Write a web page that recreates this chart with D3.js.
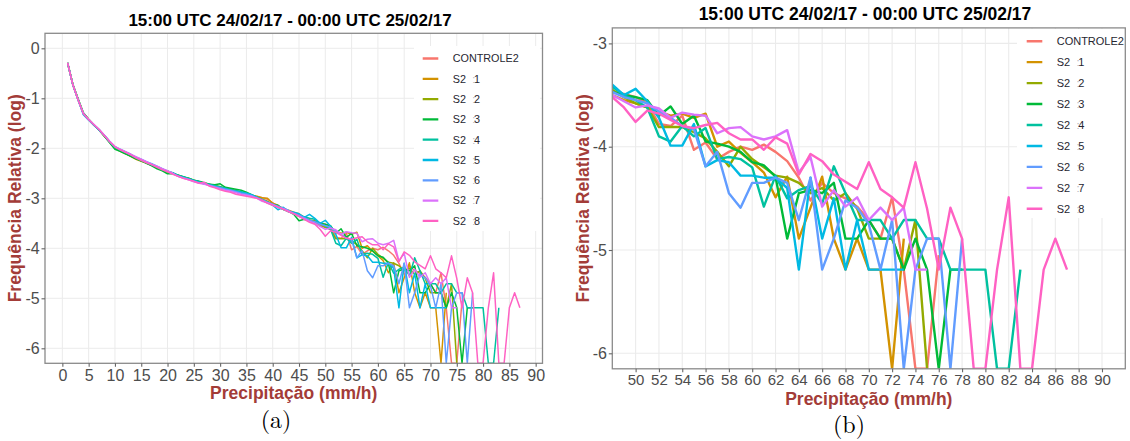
<!DOCTYPE html>
<html><head><meta charset="utf-8">
<script src="https://cdn.jsdelivr.net/npm/d3@7"></script>
<style>body{margin:0;background:#fff}svg{display:block}</style>
</head><body>
<svg id="c" width="1130" height="441"></svg>
<script>
// ---------- data ----------
const NI = -Infinity; // zero-count bin (log10(0)), drawn at the panel floor
const seriesNames = ["CONTROLE2","S2_1","S2_2","S2_3","S2_4","S2_5","S2_6","S2_7","S2_8"];
const seriesColors = ["#F8766D","#D39200","#93AA00","#00BA38","#00C19F","#00B9E3","#619CFF","#DB72FB","#FF61C3"];
const titleText = "15:00 UTC 24/02/17 - 00:00 UTC 25/02/17";
const xTitle = "Precipitação (mm/h)";
const yTitle = "Frequência Relativa (log)";
const xTicksA = [0,5,10,15,20,25,30,35,40,45,50,55,60,65,70,75,80,85,90];
const yTicksA = [-6,-5,-4,-3,-2,-1,0];
const xTicksB = [50,52,54,56,58,60,62,64,66,68,70,72,74,76,78,80,82,84,86,88,90];
const yTicksB = [-6,-5,-4,-3];

const controle2 = [
-0.29,-0.74,-1.04,-1.31,-1.43,-1.54,-1.64,-1.76,-1.88,-1.98,
-2.04,-2.09,-2.14,-2.20,-2.25,-2.28,-2.33,-2.37,-2.42,-2.46,
-2.50,-2.55,-2.58,-2.62,-2.64,-2.68,-2.71,-2.73,-2.76,-2.78,
-2.80,-2.83,-2.85,-2.88,-2.91,-2.94,-2.97,-2.99,-3.02,-3.09,
-3.16,-3.20,-3.25,-3.30,-3.33,-3.39,-3.43,
-3.47,-3.49,-3.52,-3.58,-3.78,-3.80,-3.70,-4.03,-3.96,-4.12,
-4.05,-4.00,-4.03,-3.98,-4.05,-4.14,-4.30,-4.52,-4.35,-4.45,
-4.50,-4.58,-4.71,-4.89,-4.49,-5.19,NI,NI,-5.05];
const s2_1 = [
-0.30,-0.73,-1.03,-1.30,-1.42,-1.53,-1.64,-1.75,-1.87,-1.98,
-2.05,-2.10,-2.16,-2.22,-2.26,-2.29,-2.34,-2.38,-2.42,-2.47,
-2.51,-2.54,-2.58,-2.61,-2.65,-2.67,-2.70,-2.73,-2.76,-2.79,
-2.80,-2.82,-2.85,-2.89,-2.90,-2.94,-2.96,-2.99,-3.00,-3.10,
-3.14,-3.21,-3.24,-3.28,-3.31,-3.38,-3.44,
-3.50,-3.55,-3.58,-3.62,-3.66,-3.70,-3.68,-3.72,-3.68,-4.00,
-3.95,-4.06,-4.15,-4.25,-4.49,-4.29,-4.89,-4.59,-4.29,-4.89,
-5.19,-4.89,-5.19,-5.19,NI,-4.89];
const s2_2 = [
-0.29,-0.72,-1.02,-1.30,-1.42,-1.54,-1.63,-1.76,-1.88,-2.00,
-2.06,-2.11,-2.15,-2.20,-2.25,-2.30,-2.34,-2.39,-2.43,-2.48,
-2.50,-2.54,-2.58,-2.60,-2.64,-2.67,-2.70,-2.72,-2.74,-2.77,
-2.80,-2.82,-2.85,-2.88,-2.91,-2.95,-2.98,-3.02,-3.06,-3.12,
-3.16,-3.22,-3.26,-3.30,-3.36,-3.40,-3.44,
-3.45,-3.52,-3.58,-3.62,-3.81,-3.81,-3.81,-3.86,-3.92,-4.05,
-4.19,-4.00,-4.12,-4.20,-4.28,-4.30,-4.35,-4.45,-4.40,-4.52,
-4.45,-4.60,-4.89,-4.89,-4.89,-5.19,-4.71,NI];
const s2_3 = [
-0.29,-0.72,-1.01,-1.29,-1.42,-1.53,-1.64,-1.76,-1.89,-2.02,
-2.06,-2.11,-2.16,-2.21,-2.25,-2.30,-2.35,-2.41,-2.45,-2.51,
-2.51,-2.54,-2.57,-2.60,-2.64,-2.66,-2.69,-2.72,-2.73,-2.71,
-2.78,-2.80,-2.82,-2.84,-2.88,-2.93,-2.98,-3.04,-3.08,-3.13,
-3.14,-3.22,-3.26,-3.32,-3.45,-3.42,-3.46,
-3.47,-3.50,-3.52,-3.55,-3.70,-3.61,-3.78,-3.70,-3.95,-3.97,
-4.00,-4.05,-4.15,-4.18,-4.29,-4.89,-4.45,-4.42,-4.45,-4.35,
-4.89,-4.89,-4.71,-4.89,-4.89,-5.19,-4.89,-5.19,NI,-5.19,-5.19];
const s2_4 = [
-0.30,-0.73,-1.03,-1.31,-1.43,-1.53,-1.63,-1.75,-1.87,-1.98,
-2.03,-2.08,-2.12,-2.18,-2.23,-2.28,-2.32,-2.37,-2.42,-2.46,
-2.49,-2.54,-2.57,-2.61,-2.64,-2.67,-2.70,-2.72,-2.75,-2.77,
-2.80,-2.83,-2.85,-2.87,-2.90,-2.94,-2.98,-3.03,-3.08,-3.12,
-3.18,-3.22,-3.27,-3.30,-3.35,-3.37,-3.40,
-3.42,-3.50,-3.55,-3.62,-3.90,-3.95,-3.80,-3.90,-3.82,-4.12,
-4.10,-4.12,-4.20,-4.58,-4.28,-4.50,-4.42,-4.38,-4.55,-4.19,
-4.45,-4.71,-4.71,-4.71,-4.89,-4.71,-4.71,-4.89,-4.89,-5.19,
-5.19,-5.19,-5.19,NI,NI,-5.19];
const s2_5 = [
-0.29,-0.74,-1.03,-1.33,-1.44,-1.54,-1.64,-1.75,-1.87,-1.97,
-2.03,-2.08,-2.13,-2.19,-2.24,-2.28,-2.33,-2.37,-2.42,-2.46,
-2.50,-2.55,-2.59,-2.61,-2.65,-2.68,-2.71,-2.74,-2.76,-2.79,
-2.81,-2.84,-2.86,-2.88,-2.90,-2.93,-2.98,-3.04,-3.09,-3.14,
-3.23,-3.18,-3.26,-3.28,-3.31,-3.38,-3.32,
-3.40,-3.50,-3.44,-3.56,-3.72,-3.99,-3.99,-3.78,-4.19,-4.13,
-4.15,-4.28,-4.28,-4.30,-4.30,-4.40,-5.19,-4.30,-4.89,-4.50,
-5.19,-4.71,-5.19,-5.19,-5.19,-5.19];
const s2_6 = [
-0.29,-0.73,-1.04,-1.32,-1.43,-1.53,-1.63,-1.74,-1.86,-1.97,
-2.02,-2.07,-2.12,-2.18,-2.22,-2.27,-2.31,-2.36,-2.41,-2.46,
-2.50,-2.56,-2.59,-2.62,-2.66,-2.69,-2.71,-2.74,-2.77,-2.79,
-2.82,-2.84,-2.87,-2.90,-2.92,-2.95,-2.99,-3.03,-3.08,-3.12,
-3.16,-3.20,-3.24,-3.30,-3.34,-3.39,-3.44,
-3.47,-3.52,-3.55,-3.58,-3.66,-3.72,-3.80,-3.83,-4.19,-4.05,
-4.45,-4.59,-4.35,-4.35,-4.30,-4.35,-4.71,-4.30,-5.19,-4.89,
-4.52,-4.59,-4.75,-5.19,-4.71,NI,-5.19,-4.89,-4.89,NI,-4.89];
const s2_7 = [
-0.29,-0.73,-1.03,-1.30,-1.42,-1.52,-1.62,-1.74,-1.86,-1.96,
-2.02,-2.07,-2.12,-2.17,-2.22,-2.27,-2.32,-2.36,-2.41,-2.45,
-2.50,-2.56,-2.60,-2.63,-2.67,-2.70,-2.72,-2.75,-2.78,-2.81,
-2.84,-2.86,-2.89,-2.92,-2.94,-2.96,-3.00,-3.06,-3.09,-3.13,
-3.18,-3.21,-3.26,-3.31,-3.36,-3.41,-3.46,
-3.50,-3.56,-3.62,-3.60,-3.63,-3.72,-3.67,-3.69,-3.70,-3.87,
-3.82,-3.81,-3.90,-3.93,-3.90,-3.84,-4.25,-4.10,-4.58,-4.42,
-4.58,-4.49,-4.71,-4.59,-4.71,-4.59,-5.19,-5.19];
const s2_8 = [
-0.29,-0.73,-1.03,-1.31,-1.43,-1.53,-1.63,-1.75,-1.87,-1.97,
-2.03,-2.08,-2.13,-2.19,-2.24,-2.29,-2.33,-2.38,-2.43,-2.47,
-2.52,-2.56,-2.60,-2.63,-2.66,-2.70,-2.68,-2.76,-2.79,-2.83,
-2.86,-2.88,-2.92,-2.94,-2.96,-2.98,-3.00,-3.04,-3.10,-3.14,
-3.18,-3.22,-3.27,-3.31,-3.36,-3.42,-3.48,
-3.52,-3.62,-3.76,-3.65,-3.68,-3.74,-3.80,-3.82,-3.79,-3.77,
-3.87,-3.93,-3.93,-4.03,-3.91,-3.97,-4.27,-4.07,-4.14,-4.27,
-4.34,-4.41,-4.15,-4.41,-4.49,-4.59,-4.15,-4.60,-5.19,-4.59,
-4.89,NI,NI,-5.19,-4.49,NI,NI,-5.19,-4.89,-5.19];

const seriesValues = [controle2,s2_1,s2_2,s2_3,s2_4,s2_5,s2_6,s2_7,s2_8];
const lastBin = [76,73,75,78,83,73,78,75,87];
seriesValues.forEach((a,i)=>{ if(a.length!==lastBin[i]) throw new Error(seriesNames[i]+" length "+a.length); });
// precipitation bins (mm/h) start at 1
const series = seriesNames.map((n,i)=>({name:n,color:seriesColors[i],
  pts: seriesValues[i].map((v,j)=>[j+1, v])}));

// ---------- drawing ----------
const svg = d3.select("#c");
svg.append("rect").attr("width",1130).attr("height",441).attr("fill","#fff");
const defs = svg.append("defs");
const SANS = "'Liberation Sans', Arial, Helvetica, sans-serif";
const AXCOL = "#a33c38";

function panel(o){
  const g = svg.append("g");
  const x = d3.scaleLinear().domain(o.xDom).range([o.x0,o.x1]);
  const y = d3.scaleLinear().domain(o.yDom).range([o.y1,o.y0]).clamp(true);
  // grid
  g.append("g").selectAll("line").data(o.xTicks).join("line")
    .attr("x1",d=>x(d)).attr("x2",d=>x(d)).attr("y1",o.y0).attr("y2",o.y1)
    .attr("stroke","#ebebeb").attr("stroke-width",o.gw);
  g.append("g").selectAll("line").data(o.yTicks).join("line")
    .attr("y1",d=>y(d)).attr("y2",d=>y(d)).attr("x1",o.x0).attr("x2",o.x1)
    .attr("stroke","#ebebeb").attr("stroke-width",o.gw);
  // clip
  defs.append("clipPath").attr("id","clip"+o.id).append("rect")
    .attr("x",o.x0).attr("y",o.y0).attr("width",o.x1-o.x0).attr("height",o.y1-o.y0);
  const line = d3.line().x(d=>x(d[0])).y(d=>y(d[1]));
  const lg = g.append("g").attr("clip-path","url(#clip"+o.id+")");
  series.forEach(s=>{
    lg.append("path").datum(s.pts.filter(d=>d[0]>=o.xMin))
      .attr("d",line).attr("fill","none").attr("stroke",s.color)
      .attr("stroke-width",o.lw).attr("stroke-linejoin","round").attr("stroke-linecap","butt");
  });
  // legend
  const L = o.leg;
  const lgd = g.append("g").attr("clip-path","url(#clip"+o.id+")");
  lgd.append("rect").attr("x",L.x).attr("y",L.y).attr("width",L.w).attr("height",L.h).attr("fill","#fff");
  series.forEach((s,i)=>{
    const cy = L.r0 + i*L.dy;
    lgd.append("line").attr("x1",L.kx).attr("x2",L.kx+L.kw).attr("y1",cy).attr("y2",cy)
      .attr("stroke",s.color).attr("stroke-width",L.kt);
    const t = lgd.append("text").attr("x",L.tx).attr("y",cy).attr("dy","0.36em")
      .attr("font-family",SANS).attr("font-size",L.fs).attr("fill","#262630");
    const parts = s.name.split("_");
    if(parts.length===1){ t.text(s.name); }
    else {
      t.append("tspan").text(parts[0]);
      t.append("tspan").attr("x",L.tx+L.fs*1.8).attr("fill","#b4b4bc").text(":");
      t.append("tspan").attr("x",L.tx+L.fs*1.97).text(parts[1]);
    }
  });
  // border
  g.append("rect").attr("x",o.x0).attr("y",o.y0).attr("width",o.x1-o.x0).attr("height",o.y1-o.y0)
    .attr("fill","none").attr("stroke","#8a8a8a").attr("stroke-width",1.3);
  // axes
  const ax = g.append("g").attr("transform",`translate(0,${o.y1})`)
    .call(d3.axisBottom(x).tickValues(o.xTicks).tickSize(3.5).tickPadding(o.xpad).tickFormat(d=>String(d)));
  const ay = g.append("g").attr("transform",`translate(${o.x0},0)`)
    .call(d3.axisLeft(y).tickValues(o.yTicks).tickSize(3.5).tickPadding(1.8).tickFormat(d=>String(d)));
  [ax,ay].forEach(a=>{
    a.select(".domain").remove();
    a.selectAll(".tick line").attr("stroke","#666").attr("stroke-width",1.1);
    a.selectAll("text").attr("font-family",SANS).attr("fill","#4d4d4d");
  });
  ax.selectAll("text").attr("font-size",o.xtfs);
  ay.selectAll("text").attr("font-size",o.ytfs);
  // titles
  const cx = (o.x0+o.x1)/2;
  svg.append("text").attr("x",o.titleX).attr("y",o.titleY).attr("text-anchor","middle")
    .attr("font-family",SANS).attr("font-weight","bold").attr("font-size",o.hfs).attr("fill","#000").text(titleText);
  svg.append("text").attr("x",cx).attr("y",o.xtY).attr("text-anchor","middle")
    .attr("font-family",SANS).attr("font-weight","bold").attr("font-size",o.afs).attr("fill",AXCOL).text(xTitle);
  svg.append("text").attr("transform",`translate(${o.ytX},${(o.y0+o.y1)/2}) rotate(-90)`)
    .attr("text-anchor","middle")
    .attr("font-family",SANS).attr("font-weight","bold").attr("font-size",o.afs).attr("fill",AXCOL).text(yTitle);
  svg.append("text").attr("x",o.capX).attr("y",o.capY).attr("text-anchor","middle")
    .attr("font-family","'Latin Modern Roman','CMU Serif','Liberation Serif','Times New Roman',serif")
    .attr("font-size",o.cfs).attr("fill","#000").text(o.cap);
}

panel({id:"A", xDom:[-3.3,91.3], yDom:[-6.3,0.3], x0:45, x1:542.5, y0:33.3, y1:363.3,
  xTicks:xTicksA, yTicks:yTicksA, xMin:1, lw:1.5, gw:1, xpad:3,
  xtfs:16, ytfs:16, hfs:17, afs:17.5, cfs:24,
  titleX:290, titleY:26, xtY:398.5, ytX:21, capX:276, capY:428, cap:"(a)",
  leg:{x:414,y:46,w:126,h:185,r0:58.5,dy:20.3,kx:422.7,kw:15.6,kt:2.3,tx:452.7,fs:10.8}});

panel({id:"B", xDom:[48,92], yDom:[-6.15,-2.85], x0:612.3, x1:1125.3, y0:27.9, y1:368.8,
  xTicks:xTicksB, yTicks:yTicksB, xMin:47, lw:2.4, gw:1.1, xpad:2.2,
  xtfs:15, ytfs:16, hfs:17.5, afs:17.5, cfs:24,
  titleX:865, titleY:20, xtY:404.5, ytX:588.5, capX:849, capY:433, cap:"(b)",
  leg:{x:1017,y:29,w:110,h:189,r0:41.2,dy:20.95,kx:1026.7,kw:15.6,kt:2.4,tx:1056.7,fs:11}});
</script>
</body></html>
